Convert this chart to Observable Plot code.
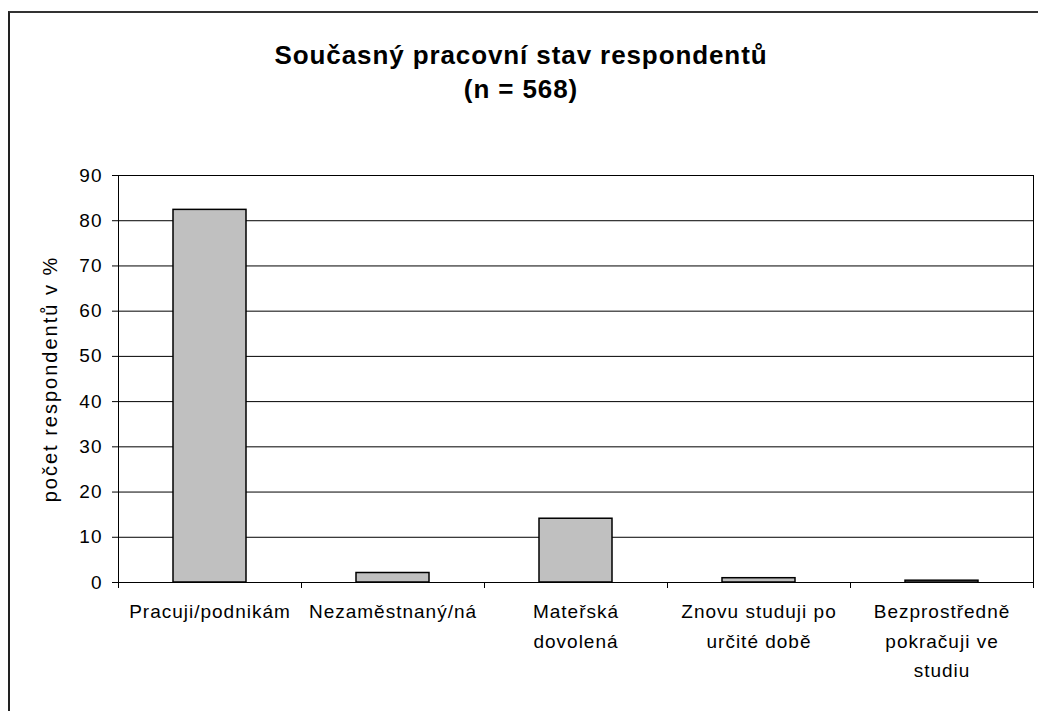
<!DOCTYPE html>
<html>
<head>
<meta charset="utf-8">
<script src="https://cdn.jsdelivr.net/npm/d3@7"></script>
<script src="https://cdn.jsdelivr.net/npm/@observablehq/plot@0.6"></script>
<style>
  html, body { margin: 0; padding: 0; background: #fff; }
  #wrap { position: relative; width: 1038px; height: 711px; overflow: hidden; font-family: Arial, "Liberation Sans", sans-serif; }
  #border { position: absolute; left: 8px; top: 11px; width: 1100px; height: 800px; border-left: 2px solid #222; border-top: 2px solid #333; box-sizing: border-box; }
  #title { position: absolute; left: 0; top: 38px; width: 1042px; text-align: center; font-weight: bold; font-size: 26px; line-height: 34px; letter-spacing: 0.9px; color: #000; }
  #chart { position: absolute; left: 0; top: 0; }
  #chart g[aria-label="x-axis tick label"] text { letter-spacing: 1px; }
  #chart g[aria-label="y-axis tick label"] text { letter-spacing: 1px; }
  #chart g[aria-label="text"] text { letter-spacing: 2px; }
</style>
</head>
<body>
<div id="wrap">
  <div id="border"></div>
  <div id="title">Současný pracovní stav respondentů<br>(n = 568)</div>
  <div id="chart"></div>
</div>
<script>
const categories = [
  "Pracuji/podnikám",
  "Nezaměstnaný/ná",
  "Mateřská dovolená",
  "Znovu studuji po určité době",
  "Bezprostředně pokračuji ve studiu"
];
const tickLabels = [
  "Pracuji/podnikám",
  "Nezaměstnaný/ná",
  "Mateřská\ndovolená",
  "Znovu studuji po\nurčité době",
  "Bezprostředně\npokračuji ve\nstudiu"
];
const values = [82.4, 2.1, 14.1, 0.95, 0.4];
const yTicks = [0, 10, 20, 30, 40, 50, 60, 70, 80, 90];
const yLabel = "počet respondentů v %";

const data = categories.map((c, i) => ({category: c, value: values[i]}));
const labelOf = new Map(categories.map((c, i) => [c, tickLabels[i]]));

const W = 1038, H = 711;
const mL = 118, mR = 5, mT = 175, mB = 129;
const step = (W - mL - mR) / categories.length;

const chart = Plot.plot({
  width: W,
  height: H,
  marginLeft: mL,
  marginRight: mR,
  marginTop: mT,
  marginBottom: mB,
  style: {fontFamily: "Arial, 'Liberation Sans', sans-serif", fontSize: "18px", color: "#000", background: "transparent", overflow: "visible"},
  x: {domain: categories, padding: 0, label: null},
  y: {domain: [0, 90], label: null},
  marks: [
    Plot.gridY(yTicks, {stroke: "#000", strokeOpacity: 1, strokeWidth: 1}),
    Plot.frame({stroke: "#000", strokeWidth: 1}),
    Plot.barY(data, {x: "category", y: "value", fill: "#c0c0c0", stroke: "#000", strokeWidth: 1.5, insetLeft: 55, insetRight: 55}),
    // category boundary tick marks below the axis
    Plot.axisX(categories, {tickSize: 6, tickFormat: () => "", dx: -step / 2, label: null, stroke: "#000"}),
    Plot.axisX([categories[categories.length - 1]], {tickSize: 6, tickFormat: () => "", dx: step / 2, label: null, stroke: "#000"}),
    Plot.axisY(yTicks, {tickSize: 6, tickPadding: 10, fontSize: 19, label: null, stroke: "#000"}),
    Plot.axisX({tickSize: 0, tickPadding: 15, fontSize: 19, lineHeight: 1.55, tickFormat: d => labelOf.get(d), label: null}),
    Plot.text([yLabel], {frameAnchor: "left", textAnchor: "middle", rotate: -90, dx: -68, fontSize: 20, fill: "#000"})
  ]
});
document.getElementById("chart").appendChild(chart);
</script>
</body>
</html>
